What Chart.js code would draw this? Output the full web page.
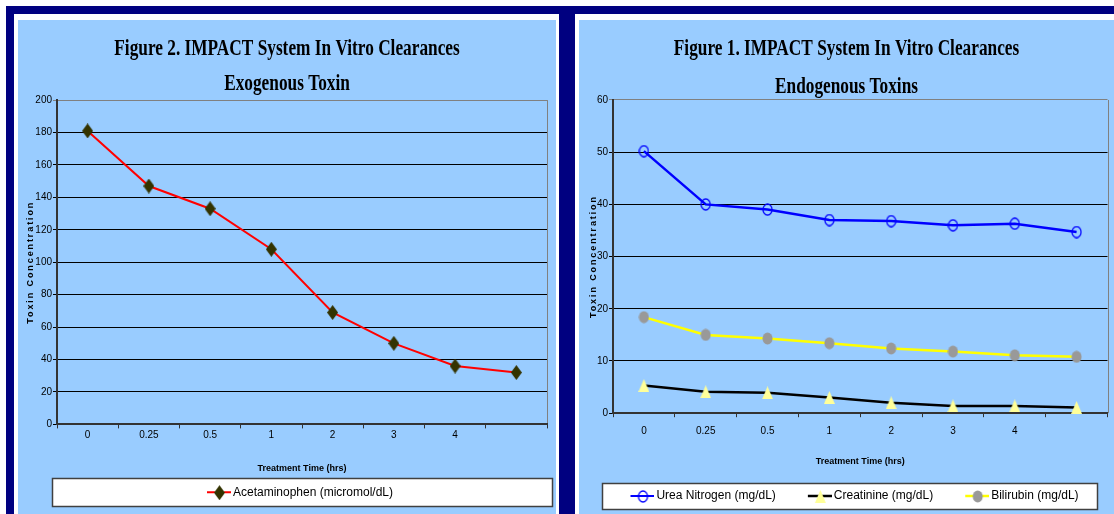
<!DOCTYPE html>
<html>
<head>
<meta charset="utf-8">
<script src="https://cdn.jsdelivr.net/npm/chart.js@4.4.1/dist/chart.umd.min.js"></script>
<style>
  html, body { margin: 0; padding: 0; background: #fff; }
  body { width: 1114px; height: 514px; position: relative; overflow: hidden; }
  .navy { position: absolute; background: #000080; }
  .panel { position: absolute; background: #99ccff; }
</style>
</head>
<body>
<div class="navy" style="left:6px;top:6px;width:1108px;height:8px"></div>
<div class="navy" style="left:6px;top:6px;width:8px;height:508px"></div>
<div class="navy" style="left:559px;top:6px;width:16px;height:508px"></div>
<div class="panel" style="left:18px;top:20px;width:538px;height:494px"><canvas id="exo"></canvas></div>
<div class="panel" style="left:579px;top:20px;width:535px;height:494px"><canvas id="endo"></canvas></div>
<script>
const timeLabels = ['0', '0.25', '0.5', '1', '2', '3', '4', ''];
const acetaminophen = [181, 147, 133, 108, 69, 50, 36, 32];
const ureaNitrogen = [50.2, 40, 39, 37, 36.8, 36, 36.3, 34.7];
const creatinine = [5.3, 4.1, 3.9, 3.0, 2.0, 1.4, 1.4, 1.1];
const bilirubin = [18.4, 15, 14.3, 13.4, 12.4, 11.8, 11.1, 10.8];
const exoTitle = ['Figure 2. IMPACT System In Vitro Clearances', 'Exogenous Toxin'];
const endoTitle = ['Figure 1. IMPACT System In Vitro Clearances', 'Endogenous Toxins'];
const xTitle = 'Treatment Time (hrs)';
const yTitle = 'Toxin Concentration';

const SANS = "'Liberation Sans', Arial, sans-serif";
const SERIF = "'Liberation Serif', 'Times New Roman', serif";
const LEGEND_SIZE = 12;

Chart.defaults.color = '#000';
Chart.defaults.animation = false;

function sprite(w, h, paint) {
  const c = document.createElement('canvas');
  c.width = w;
  c.height = h;
  paint(c.getContext('2d'), w, h);
  return c;
}

const diamond = sprite(11, 15, (g, w, h) => {
  g.fillStyle = '#333300';
  g.beginPath();
  g.moveTo(w / 2, 0);
  g.lineTo(w, h / 2);
  g.lineTo(w / 2, h);
  g.lineTo(0, h / 2);
  g.closePath();
  g.fill();
});

const ring = sprite(11, 13, (g, w, h) => {
  g.strokeStyle = '#0000ff';
  g.lineWidth = 1.3;
  g.beginPath();
  g.ellipse(w / 2, h / 2, w / 2 - 1, h / 2 - 1, 0, 0, Math.PI * 2);
  g.stroke();
});

const triangle = sprite(11, 13, (g, w, h) => {
  g.fillStyle = '#ffff99';
  g.beginPath();
  g.moveTo(w / 2, 0);
  g.lineTo(w, h);
  g.lineTo(0, h);
  g.closePath();
  g.fill();
});

const dot = sprite(11, 13, (g, w, h) => {
  g.fillStyle = '#999999';
  g.beginPath();
  g.ellipse(w / 2, h / 2, w / 2 - 0.5, h / 2 - 0.5, 0, 0, Math.PI * 2);
  g.fill();
});

// line + marker key; the image is wider than the key so the free space
// on its left acts as the gap between legend items
function legendIcon(color, width, mark, boxW) {
  const iw = boxW + LEGEND_SIZE - 4;
  return sprite(iw, 16, (g, w, h) => {
    const x0 = w - 24;
    g.strokeStyle = color;
    g.lineWidth = width;
    g.beginPath();
    g.moveTo(x0, h / 2);
    g.lineTo(w, h / 2);
    g.stroke();
    g.drawImage(mark, Math.round(x0 + (24 - mark.width) / 2), Math.round((h - mark.height) / 2));
  });
}

const exoIcons = [legendIcon('#ff0000', 2, diamond, 16)];
const endoIcons = [
  legendIcon('#0000ff', 2, ring, 42),
  legendIcon('#000000', 2.5, triangle, 42),
  legendIcon('#ffff00', 2.5, dot, 42),
];

function legendLabels(icons) {
  return chart => chart.data.datasets.map((ds, i) => ({
    text: ds.label,
    pointStyle: icons[i],
    datasetIndex: i,
    fontColor: '#000',
    lineWidth: 0,
    strokeStyle: 'rgba(0,0,0,0)',
    fillStyle: 'rgba(0,0,0,0)',
  }));
}

// white framed box behind the legend, plus the grey right edge of the plot
const frames = {
  id: 'frames',
  beforeDraw(chart, args, opts) {
    const ctx = chart.ctx;
    const { left, right, top, bottom } = chart.chartArea;
    const box = chart.legend.legendHitBoxes[0];
    ctx.save();
    if (box) {
      const cy = box.top + box.height / 2;
      const x0 = Math.round(left + opts.inset[0]) + 0.5;
      const x1 = Math.round(right + opts.inset[1]) + 0.5;
      const y0 = Math.round(cy - opts.height / 2) + 0.5;
      ctx.fillStyle = '#fff';
      ctx.fillRect(x0, y0, x1 - x0, opts.height);
      ctx.strokeStyle = '#404040';
      ctx.lineWidth = 1.5;
      ctx.strokeRect(x0, y0, x1 - x0, opts.height);
    }
    ctx.strokeStyle = '#808080';
    ctx.lineWidth = 1;
    ctx.beginPath();
    ctx.moveTo(Math.round(right) + 0.5, top);
    ctx.lineTo(Math.round(right) + 0.5, bottom);
    ctx.stroke();
    ctx.restore();
  }
};

// narrow serif title and letter-spaced axis title
const textLook = {
  id: 'textLook',
  beforeDraw(chart, args, opts) {
    const t = chart.titleBlock;
    if (t && !t._squeezed) {
      const draw = t.draw;
      t.draw = function () {
        const ctx = this.ctx;
        ctx.save();
        ctx.translate(chart.width / 2, 0);
        ctx.scale(opts.scaleX, 1);
        ctx.translate(-(this.left + this.right) / 2, 0);
        draw.call(this);
        ctx.restore();
      };
      t._squeezed = true;
    }
    const y = chart.scales.y;
    if (y && !y._spaced) {
      const drawTitle = y.drawTitle;
      y.drawTitle = function () {
        this.ctx.save();
        this.ctx.letterSpacing = opts.letterSpacing;
        drawTitle.call(this);
        this.ctx.restore();
      };
      y._spaced = true;
    }
  }
};

function scales(max, step, yWidth, yTitlePad, xTickPad, xTitlePad) {
  return {
    x: {
      offset: true,
      grid: { offset: true, drawOnChartArea: false, tickLength: 4, color: '#333' },
      border: { color: '#333', width: 2 },
      ticks: { padding: xTickPad, autoSkip: false, maxRotation: 0, font: { family: SANS, size: 10 } },
      title: { display: true, text: xTitle, font: { family: SANS, size: 9, weight: 'bold' }, padding: xTitlePad },
    },
    y: {
      min: 0,
      max: max,
      afterFit: s => { s.width = yWidth; },
      grid: { color: c => (c.tick && c.tick.value === max ? '#808080' : '#000'), tickLength: 4 },
      border: { color: '#333', width: 2 },
      ticks: { stepSize: step, padding: 1, font: { family: SANS, size: 10 } },
      title: { display: true, text: yTitle, font: { family: SANS, size: 9, weight: 'bold' }, padding: { top: yTitlePad, bottom: 0 } },
    },
  };
}

new Chart(document.getElementById('exo'), {
  type: 'line',
  data: {
    labels: timeLabels,
    datasets: [{
      label: 'Acetaminophen (micromol/dL)',
      data: acetaminophen,
      borderColor: '#ff0000',
      borderWidth: 2,
      pointStyle: diamond,
      tension: 0,
      clip: false,
    }]
  },
  options: {
    responsive: true,
    maintainAspectRatio: false,
    layout: { padding: { left: 0, right: 9, top: 0, bottom: 5.8 } },
    scales: scales(200, 20, 39, 7, 1, { top: 20.6, bottom: 2.4 }),
    plugins: {
      title: { display: true, text: exoTitle, color: '#000', font: { family: SERIF, size: 24, weight: 'bold', lineHeight: 1.46 }, padding: { top: 11, bottom: -1 } },
      legend: {
        position: 'bottom',
        fullSize: false,
        labels: { usePointStyle: true, pointStyleWidth: 16, padding: 10, font: { family: SANS, size: LEGEND_SIZE }, generateLabels: legendLabels(exoIcons) },
      },
      tooltip: { enabled: false },
      frames: { inset: [-5, 5], height: 28 },
      textLook: { scaleX: 0.72, letterSpacing: '1.9px' },
    },
  },
  plugins: [frames, textLook],
});

new Chart(document.getElementById('endo'), {
  type: 'line',
  data: {
    labels: timeLabels,
    datasets: [{
      label: 'Urea Nitrogen (mg/dL)',
      data: ureaNitrogen,
      borderColor: '#0000ff',
      borderWidth: 2.5,
      pointStyle: ring,
      tension: 0,
      clip: false,
    }, {
      label: 'Creatinine (mg/dL)',
      data: creatinine,
      borderColor: '#000000',
      borderWidth: 2.5,
      pointStyle: triangle,
      tension: 0,
      clip: false,
    }, {
      label: 'Bilirubin (mg/dL)',
      data: bilirubin,
      borderColor: '#ffff00',
      borderWidth: 2.5,
      pointStyle: dot,
      tension: 0,
      clip: false,
    }]
  },
  options: {
    responsive: true,
    maintainAspectRatio: false,
    layout: { padding: { left: 0, right: 6, top: 0, bottom: 2 } },
    scales: scales(60, 10, 34, 9, 8, { top: 10.6, bottom: 13.4 }),
    plugins: {
      title: { display: true, text: endoTitle, color: '#000', font: { family: SERIF, size: 24, weight: 'bold', lineHeight: 1.583 }, padding: { top: 10, bottom: -6 } },
      legend: {
        position: 'bottom',
        fullSize: true,
        labels: { usePointStyle: true, pointStyleWidth: 42, padding: 10, font: { family: SANS, size: LEGEND_SIZE }, generateLabels: legendLabels(endoIcons) },
      },
      tooltip: { enabled: false },
      frames: { inset: [-11, -11], height: 26 },
      textLook: { scaleX: 0.72, letterSpacing: '1.9px' },
    },
  },
  plugins: [frames, textLook],
});
</script>
</body>
</html>
